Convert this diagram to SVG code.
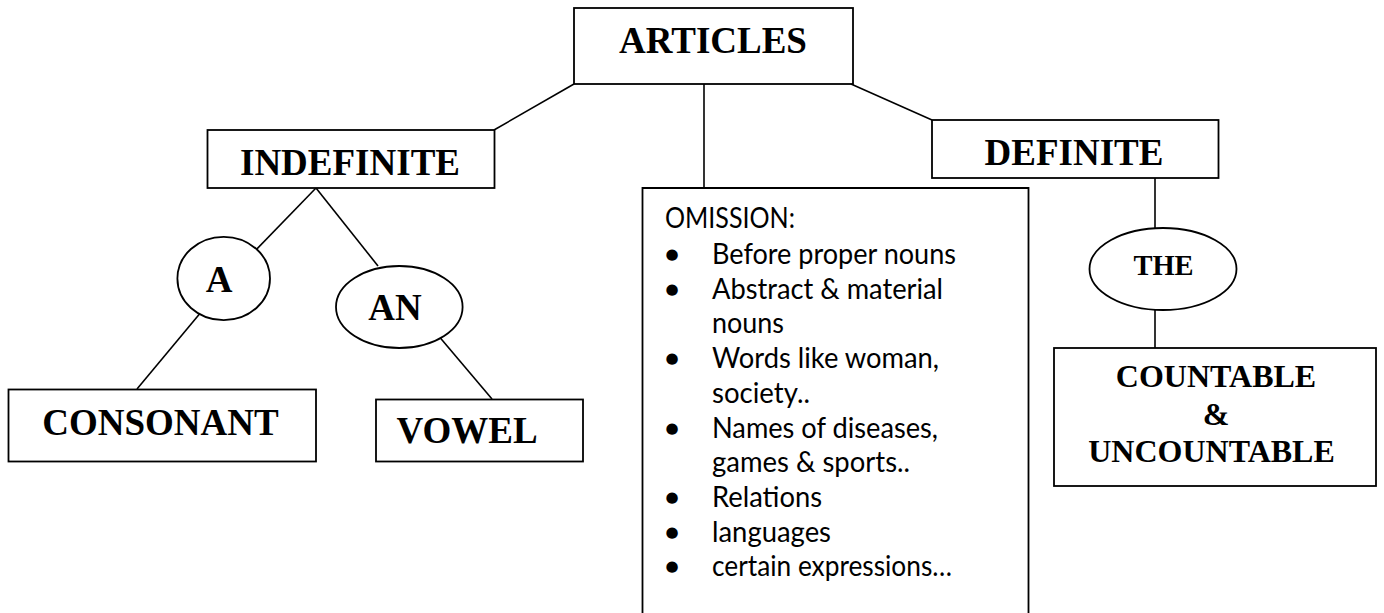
<svg xmlns="http://www.w3.org/2000/svg" width="1384" height="613" viewBox="0 0 1384 613">
  <style>
    .box { fill: #fff; stroke: #000; stroke-width: 1.8; }
    .link { stroke: #000; stroke-width: 1.6; fill: none; }
    .head { font-family: "Liberation Serif", "Times New Roman", serif; font-weight: bold; font-size: 37px; fill: #000; }
    .sub { font-family: "Liberation Serif", "Times New Roman", serif; font-weight: bold; font-size: 32px; fill: #000; }
    .body { font-family: Lato, "Liberation Sans", sans-serif; font-size: 29px; fill: #000; }
    .dot { font-family: "DejaVu Sans", sans-serif; font-size: 15px; fill: #000; }
  </style>
  <rect width="1384" height="613" fill="#fff"/>

  <!-- connectors -->
  <g id="connectors">
    <line class="link" x1="574" y1="84" x2="494" y2="130"/>
    <line class="link" x1="704" y1="84" x2="704" y2="188"/>
    <line class="link" x1="851" y1="84" x2="932" y2="120"/>
    <line class="link" x1="316" y1="188" x2="254.5" y2="251.5"/>
    <line class="link" x1="316" y1="188" x2="378" y2="266"/>
    <line class="link" x1="202" y1="311" x2="137" y2="389"/>
    <line class="link" x1="437" y1="334" x2="492" y2="399"/>
    <line class="link" x1="1155" y1="178" x2="1155" y2="228"/>
    <line class="link" x1="1155" y1="310" x2="1155" y2="348"/>
  </g>

  <g id="articles">
    <rect class="box" x="574" y="8" width="279" height="76"/>
    <text class="head" x="713" y="53" text-anchor="middle">ARTICLES</text>
  </g>

  <g id="indefinite">
    <rect class="box" x="207.5" y="130" width="287" height="58"/>
    <text class="head" x="350" y="175" text-anchor="middle">INDEFINITE</text>
  </g>

  <g id="definite">
    <rect class="box" x="932" y="120" width="286.5" height="58"/>
    <text class="head" x="1074" y="165" text-anchor="middle">DEFINITE</text>
  </g>

  <g id="article-a">
    <ellipse class="box" cx="223.7" cy="278.5" rx="46.3" ry="41.7"/>
    <text class="head" x="219" y="291.5" text-anchor="middle">A</text>
  </g>

  <g id="article-an">
    <ellipse class="box" cx="399.3" cy="307" rx="63.3" ry="41"/>
    <text class="head" x="395" y="320" text-anchor="middle">AN</text>
  </g>

  <g id="article-the">
    <ellipse class="box" cx="1163" cy="269" rx="73.5" ry="41"/>
    <text class="sub" x="1163.5" y="275" text-anchor="middle" style="font-size:28.5px">THE</text>
  </g>

  <g id="consonant">
    <rect class="box" x="8.5" y="389.5" width="307.5" height="72"/>
    <text class="head" x="160.5" y="435" text-anchor="middle">CONSONANT</text>
  </g>

  <g id="vowel">
    <rect class="box" x="376" y="399.5" width="207" height="62"/>
    <text class="head" x="396.5" y="443">VOWEL</text>
  </g>

  <g id="countable">
    <rect class="box" x="1054" y="348" width="322" height="138"/>
    <text class="sub" x="1216" y="387" text-anchor="middle">COUNTABLE</text>
    <text class="sub" x="1216" y="425" text-anchor="middle">&amp;</text>
    <text class="sub" x="1211.5" y="462" text-anchor="middle">UNCOUNTABLE</text>
  </g>

  <g id="omission">
    <path class="box" d="M642.5,620 V188 H1028.5 V620"/>
    <text class="body" x="665" y="228" textLength="130" lengthAdjust="spacingAndGlyphs">OMISSION:</text>
    <g class="dot">
      <text x="665.5" y="259">●</text>
      <text x="665.5" y="294">●</text>
      <text x="665.5" y="363">●</text>
      <text x="665.5" y="433">●</text>
      <text x="665.5" y="502">●</text>
      <text x="665.5" y="537">●</text>
      <text x="665.5" y="571">●</text>
    </g>
    <text class="body" x="712" y="264" textLength="244" lengthAdjust="spacingAndGlyphs">Before proper nouns</text>
    <text class="body" x="712" y="299" textLength="231" lengthAdjust="spacingAndGlyphs">Abstract &amp; material</text>
    <text class="body" x="712" y="333" textLength="72" lengthAdjust="spacingAndGlyphs">nouns</text>
    <text class="body" x="712" y="368" textLength="227" lengthAdjust="spacingAndGlyphs">Words like woman,</text>
    <text class="body" x="712" y="403" textLength="98" lengthAdjust="spacingAndGlyphs">society..</text>
    <text class="body" x="712" y="438" textLength="226" lengthAdjust="spacingAndGlyphs">Names of diseases,</text>
    <text class="body" x="712" y="472" textLength="198" lengthAdjust="spacingAndGlyphs">games &amp; sports..</text>
    <text class="body" x="712" y="507" textLength="110" lengthAdjust="spacingAndGlyphs">Relations</text>
    <text class="body" x="712" y="542" textLength="119" lengthAdjust="spacingAndGlyphs">languages</text>
    <text class="body" x="712" y="576" textLength="240" lengthAdjust="spacingAndGlyphs">certain expressions…</text>
  </g>
</svg>
